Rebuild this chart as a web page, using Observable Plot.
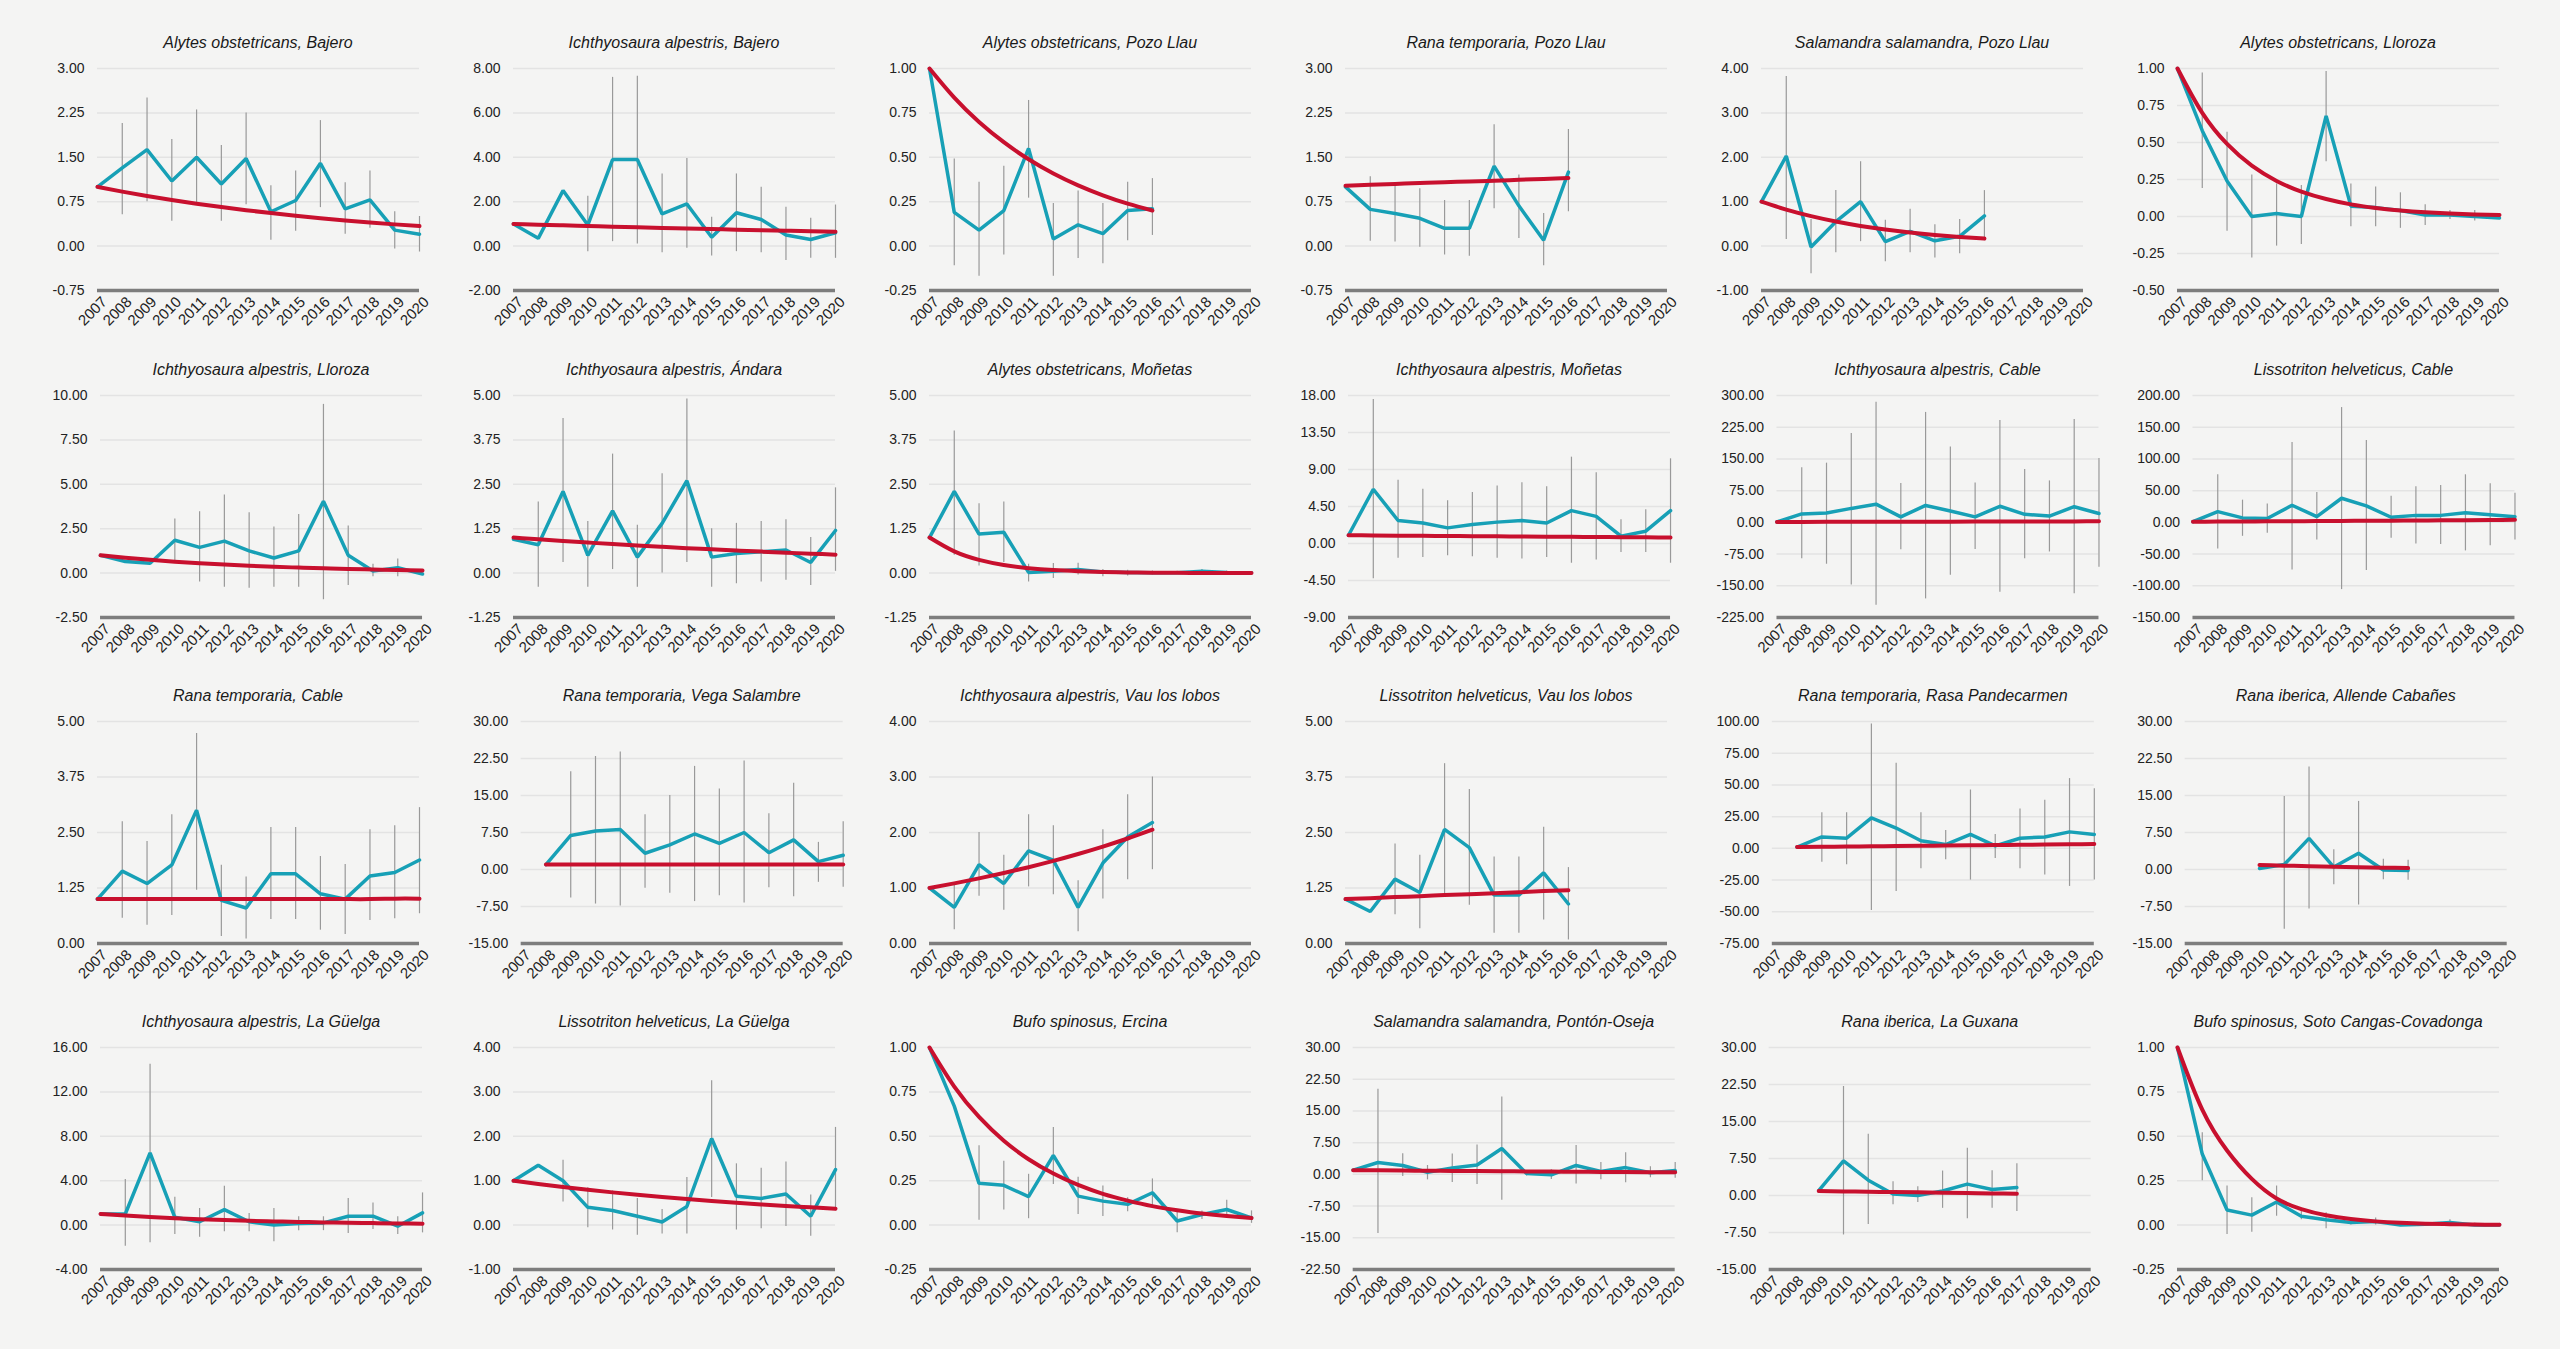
<!DOCTYPE html>
<html><head><meta charset="utf-8">
<script src="https://cdn.jsdelivr.net/npm/d3@7"></script>
<script src="https://cdn.jsdelivr.net/npm/@observablehq/plot@0.6"></script>
<style>
html,body{margin:0;padding:0;background:#f4f4f3;}
#root{position:relative;width:2560px;height:1349px;overflow:hidden;font-family:"Liberation Sans",Arial,sans-serif;}
.ttl{position:absolute;text-align:center;font-style:italic;font-size:16px;color:#1a1a1a;white-space:nowrap;line-height:20px;height:20px;}
.pan{position:absolute;}
</style></head><body><div id="root"></div><script>
const years = [2007,2008,2009,2010,2011,2012,2013,2014,2015,2016,2017,2018,2019,2020];
const titles = [
  "Alytes obstetricans, Bajero","Ichthyosaura alpestris, Bajero","Alytes obstetricans, Pozo Llau","Rana temporaria, Pozo Llau","Salamandra salamandra, Pozo Llau","Alytes obstetricans, Lloroza",
  "Ichthyosaura alpestris, Lloroza","Ichthyosaura alpestris, Ándara","Alytes obstetricans, Moñetas","Ichthyosaura alpestris, Moñetas","Ichthyosaura alpestris, Cable","Lissotriton helveticus, Cable",
  "Rana temporaria, Cable","Rana temporaria, Vega Salambre","Ichthyosaura alpestris, Vau los lobos","Lissotriton helveticus, Vau los lobos","Rana temporaria, Rasa Pandecarmen","Rana iberica, Allende Cabañes",
  "Ichthyosaura alpestris, La Güelga","Lissotriton helveticus, La Güelga","Bufo spinosus, Ercina","Salamandra salamandra, Pontón-Oseja","Rana iberica, La Guxana","Bufo spinosus, Soto Cangas-Covadonga"
];
const yMin  = [-0.75,-2,-0.25,-0.75,-1,-0.5, -2.5,-1.25,-1.25,-9,-225,-150, 0,-15,0,0,-75,-15, -4,-1,-0.25,-22.5,-15,-0.25];
const yMax  = [3,8,1,3,4,1, 10,5,5,18,300,200, 5,30,4,5,100,30, 16,4,1,30,30,1];
const yStep = [0.75,2,0.25,0.75,1,0.25, 2.5,1.25,1.25,4.5,75,50, 1.25,7.5,1,1.25,25,7.5, 4,1,0.25,7.5,7.5,0.25];
const startYear = [2007,2007,2007,2007,2007,2007, 2007,2007,2007,2007,2007,2007, 2007,2008,2007,2007,2008,2010, 2007,2007,2007,2007,2009,2007];
const means = [
  [1.0,1.32,1.63,1.1,1.5,1.05,1.48,0.58,0.77,1.4,0.63,0.78,0.27,0.2],
  [1.0,0.35,2.5,0.95,3.9,3.9,1.45,1.9,0.4,1.5,1.2,0.5,0.3,0.6],
  [1.0,0.19,0.09,0.2,0.55,0.04,0.12,0.07,0.2,0.21],
  [1.0,0.62,0.55,0.47,0.3,0.3,1.35,0.68,0.1,1.25],
  [1.0,2.03,-0.02,0.55,1.0,0.1,0.33,0.12,0.22,0.68],
  [1.0,0.58,0.24,0.0,0.02,0.0,0.68,0.07,0.06,0.04,0.01,0.01,0.0,-0.01],
  [1.0,0.65,0.55,1.85,1.45,1.8,1.25,0.85,1.25,4.05,1.0,0.12,0.3,-0.05],
  [0.95,0.8,2.3,0.5,1.75,0.45,1.4,2.6,0.45,0.55,0.6,0.65,0.3,1.2],
  [1.0,2.3,1.1,1.15,0.02,0.05,0.1,0.03,0.02,0.01,0.01,0.05,0.02,0.01],
  [1.0,6.6,2.8,2.5,1.9,2.3,2.6,2.8,2.5,4.0,3.3,0.9,1.5,4.0],
  [1,20,22,33,43,13,40,27,13,38,19,15,37,21],
  [1,17,7,6,27,9,38,26,8,11,11,15,12,9],
  [1.0,1.63,1.35,1.77,3.0,0.97,0.8,1.57,1.57,1.12,1.0,1.52,1.6,1.88],
  [1.0,6.9,7.8,8.1,3.3,5.0,7.2,5.3,7.5,3.4,6.0,1.6,2.9],
  [1.0,0.65,1.42,1.08,1.67,1.5,0.65,1.45,1.92,2.18],
  [1.0,0.72,1.45,1.15,2.57,2.16,1.09,1.09,1.59,0.89],
  [1,9,8,24,16,6,3,11,2,8,9,13,11],
  [0.2,1.0,6.3,0.5,3.3,-0.1,-0.2],
  [1.0,1.0,6.5,0.7,0.3,1.4,0.3,0.0,0.15,0.2,0.8,0.8,-0.1,1.1],
  [1.0,1.35,1.0,0.4,0.33,0.2,0.07,0.42,1.95,0.65,0.6,0.7,0.2,1.25],
  [1.0,0.67,0.235,0.224,0.16,0.393,0.163,0.135,0.117,0.182,0.023,0.06,0.088,0.041],
  [1.0,2.8,2.1,0.5,1.5,2.2,6.1,0.2,-0.1,2.1,0.7,1.6,0.4,0.9],
  [1.0,7.0,3.1,0.3,0.0,0.9,2.3,1.2,1.6],
  [1.0,0.4,0.085,0.056,0.13,0.05,0.03,0.015,0.02,0.0,0.005,0.015,0.0,0.0]
];
const lows = [
  [null,0.53,0.75,0.42,0.7,0.42,0.7,0.1,0.25,0.65,0.2,0.3,-0.05,-0.1],
  [null,null,null,-0.25,0.2,0.1,-0.3,-0.1,-0.45,-0.25,-0.3,-0.65,-0.55,-0.55],
  [null,-0.11,-0.17,-0.05,0.27,-0.17,-0.07,-0.1,0.03,0.06],
  [null,0.08,0.07,-0.02,-0.15,-0.17,0.63,0.13,-0.33,0.58],
  [null,0.15,-0.62,-0.15,0.1,-0.35,-0.15,-0.27,-0.17,0.12],
  [null,0.19,-0.1,-0.28,-0.2,-0.19,0.37,-0.07,-0.07,-0.08,-0.06,-0.02,-0.03,null],
  [null,null,null,0.7,-0.5,-0.8,-0.85,-0.8,-0.8,-1.5,-0.7,-0.2,-0.2,null],
  [null,-0.4,0.3,-0.4,0.1,-0.4,0.0,0.3,-0.4,-0.3,-0.25,-0.2,-0.35,0.05],
  [null,0.5,0.2,0.3,-0.25,-0.15,-0.05,-0.1,-0.08,-0.05,-0.04,-0.03,-0.03,-0.02],
  [null,-4.3,-1.8,-1.7,-1.5,-1.6,-1.8,-1.9,-1.7,-2.4,-2.0,-1.1,-1.1,-2.4],
  [null,-86,-99,-148,-196,-65,-181,-125,-64,-165,-86,-70,-169,-106],
  [null,-42,-22,-17,-75,-28,-106,-76,-25,-34,-35,-45,-37,-28],
  [null,0.57,0.41,0.63,1.2,0.16,0.1,0.54,0.54,0.3,0.2,0.52,0.56,0.67],
  [null,-5.8,-7.0,-7.4,-3.8,-4.8,-6.5,-5.3,-6.8,-3.7,-5.5,-2.6,-3.6],
  [null,0.25,0.85,0.6,1.02,0.88,0.21,0.8,1.15,1.33],
  [null,null,0.65,0.33,1.1,0.86,0.23,0.23,0.53,0.08],
  [null,-11,-13,-49,-34,-16,-9,-25,-8,-16,-21,-30,-25],
  [null,-12.1,-8.0,-3.1,-7.2,-2.1,-2.2],
  [null,-1.9,-1.6,-0.85,-1.1,-0.6,-0.6,-1.5,-0.5,-0.5,-0.75,-0.4,-0.85,-0.7],
  [null,null,0.52,-0.06,-0.11,-0.23,-0.2,-0.2,0.62,-0.11,-0.08,-0.03,-0.25,0.32],
  [null,null,0.028,0.085,0.036,0.229,0.06,0.049,0.075,0.098,-0.043,0.032,0.05,0.01],
  [null,-14,-0.5,-1.3,-1.9,-2.4,-6.1,-0.4,-1.2,-2.3,-1.3,-2.0,-0.8,-0.9],
  [null,-8.0,-5.9,-1.9,-1.4,-2.6,-4.7,-2.6,-3.25],
  [null,0.25,-0.053,-0.04,0.05,0.03,-0.02,0.0,0.0,-0.005,-0.005,0.0,-0.005,-0.005]
];
const highs = [
  [null,2.07,2.5,1.8,2.3,1.7,2.25,1.02,1.27,2.12,1.07,1.27,0.58,0.5],
  [null,null,null,2.25,7.6,7.65,3.25,3.95,1.3,3.25,2.65,1.75,1.25,1.85],
  [null,0.49,0.36,0.45,0.82,0.24,0.31,0.24,0.36,0.38],
  [null,1.17,1.03,0.97,0.77,0.77,2.05,1.2,0.55,1.97],
  [null,3.82,0.6,1.25,1.9,0.58,0.83,0.48,0.6,1.25],
  [null,0.97,0.57,0.28,0.22,0.21,0.98,0.22,0.2,0.16,0.08,0.04,0.04,null],
  [null,null,null,3.05,3.45,4.4,3.4,2.6,3.3,9.5,2.65,0.5,0.8,null],
  [null,2.0,4.35,1.45,3.35,1.35,2.8,4.9,1.25,1.4,1.45,1.5,1.0,2.4],
  [null,4.0,1.95,2.0,0.25,0.27,0.28,0.1,0.08,0.06,0.05,0.1,0.06,0.04],
  [null,17.5,7.7,6.6,5.2,6.2,7.0,7.4,6.9,10.5,8.6,2.9,4.1,10.3],
  [null,129,140,210,284,92,260,178,93,241,125,98,243,151],
  [null,75,35,29,126,47,181,129,41,56,58,75,61,46],
  [null,2.74,2.3,2.9,4.73,1.76,1.5,2.61,2.61,1.96,1.78,2.56,2.65,3.06],
  [null,19.8,22.9,23.8,11.1,15.0,20.9,16.3,22.0,11.3,17.5,5.5,9.7],
  [null,1.05,2.0,1.59,2.32,2.12,1.13,2.05,2.68,3.0],
  [null,null,2.24,1.99,4.05,3.47,1.95,1.95,2.62,1.71],
  [null,28,28,98,67,28,14,46,11,31,38,55,47],
  [null,14.8,20.8,4.0,13.8,2.1,1.9],
  [null,4.1,14.5,2.5,1.5,3.5,1.05,1.5,0.75,0.75,2.4,2.0,0.75,2.9],
  [null,null,1.46,0.84,0.77,0.6,0.35,1.07,3.25,1.38,1.28,1.42,0.68,2.2],
  [null,null,0.447,0.36,0.286,0.549,0.27,0.22,0.154,0.26,0.085,0.08,0.14,0.08],
  [null,20.1,4.9,2.1,4.8,6.95,18.3,0.6,1.1,6.8,2.8,5.1,1.8,2.8],
  [null,22.1,12.4,2.8,1.76,4.96,9.56,5.0,6.45],
  [null,0.52,0.22,0.154,0.22,0.08,0.07,0.03,0.04,0.01,0.015,0.03,0.01,0.01]
];
const trends = [
  [1.0,0.92,0.846,0.779,0.716,0.659,0.606,0.558,0.513,0.472,0.434,0.399,0.367,0.338],
  [1.0,0.967,0.936,0.905,0.876,0.847,0.819,0.793,0.767,0.742,0.718,0.694,0.672,0.65],
  [1,0.836,0.699,0.585,0.489,0.409,0.342,0.286,0.239,0.2],
  [1.02,1.035,1.05,1.065,1.08,1.09,1.105,1.12,1.135,1.15],
  [1,0.821,0.674,0.553,0.454,0.373,0.306,0.251,0.206,0.17],
  [1,0.7,0.49,0.343,0.24,0.168,0.118,0.082,0.058,0.04,0.028,0.02,0.014,0.01],
  [1,0.864,0.746,0.645,0.557,0.481,0.416,0.359,0.31,0.268,0.232,0.2,0.173,0.15],
  [1,0.951,0.904,0.86,0.818,0.778,0.74,0.703,0.669,0.636,0.605,0.575,0.547,0.52],
  [1,0.61,0.372,0.227,0.138,0.084,0.052,0.031,0.019,0.012,0.007,0.004,0.003,0.002],
  [1.0,0.98,0.955,0.935,0.91,0.89,0.87,0.85,0.83,0.81,0.79,0.77,0.75,0.73],
  [1,1.1,1.2,1.3,1.4,1.5,1.6,1.7,1.8,1.9,2.0,2.1,2.3,2.5],
  [1,1.2,1.4,1.6,1.8,2.0,2.2,2.5,2.7,3.0,3.2,3.5,3.8,4.0],
  [1.0,1.0,1.0,1.0,1.0,1.0,1.0,1.0,1.0,1.0,1.0,1.0,1.01,1.01],
  [1.0,1.0,1.0,1.0,1.0,1.0,1.0,1.0,1.0,1.0,1.0,1.0,1.0],
  [1,1.083,1.173,1.27,1.375,1.489,1.613,1.747,1.892,2.05],
  [1.0,1.02,1.045,1.065,1.09,1.11,1.13,1.155,1.18,1.2],
  [1.0,1.2,1.4,1.6,1.8,2.0,2.2,2.4,2.6,2.8,3.0,3.2,3.4],
  [0.9,0.78,0.67,0.57,0.47,0.37,0.28],
  [1,0.855,0.731,0.625,0.534,0.457,0.391,0.334,0.286,0.244,0.209,0.178,0.153,0.13],
  [1,0.926,0.858,0.795,0.737,0.682,0.632,0.586,0.543,0.503,0.466,0.431,0.4,0.37],
  [1,0.78,0.609,0.475,0.371,0.29,0.226,0.176,0.138,0.107,0.084,0.065,0.051,0.04],
  [1.0,0.95,0.9,0.86,0.81,0.77,0.73,0.69,0.65,0.62,0.58,0.55,0.52,0.5],
  [0.9,0.83,0.76,0.7,0.64,0.58,0.5,0.42,0.35],
  [1,0.65,0.42,0.26,0.15,0.09,0.055,0.034,0.021,0.013,0.008,0.005,0.003,0.002]
];

const root = document.getElementById("root");
const FONT = '"Liberation Sans", Arial, sans-serif';
const CELL_W = 416, CELL_X0 = 40, PLOT_W = 322, PLOT_H = 222, MT = 10, MB = 55;
const rowTops = [68, 394.5, 721, 1047];
const FS = 14;
function labelWidth(s){ let w = 0; for (const c of s) w += c === "." ? 0.278 : c === "-" ? 0.333 : 0.556; return w * FS; }
const fmt = v => (Math.abs(v) < 1e-9 ? 0 : v).toFixed(2);

titles.forEach((title, i) => {
  const col = i % 6, row = Math.floor(i / 6);
  const nT = Math.round((yMax[i] - yMin[i]) / yStep[i]);
  const ticks = d3.range(nT + 1).map(k => +(yMin[i] + k * yStep[i]).toFixed(4));
  const maxW = d3.max(ticks, t => labelWidth(fmt(t)));
  const ml = 57 + Math.max(0, maxW - 32);
  const mr = CELL_W - PLOT_W - ml;
  const rows = means[i].map((m, k) => ({year: startYear[i] + k, mean: m, lo: lows[i][k], hi: highs[i][k], trend: trends[i][k]}));
  const bars = rows.filter(d => d.lo != null && d.hi != null);
  const svg = Plot.plot({
    width: CELL_W, height: MT + PLOT_H + MB,
    marginTop: MT, marginBottom: MB, marginLeft: ml, marginRight: mr,
    style: {background: "transparent", fontFamily: FONT, fontSize: FS + "px", color: "#222", overflow: "visible"},
    x: {domain: [2007, 2020]},
    y: {domain: [yMin[i], yMax[i]]},
    marks: [
      Plot.ruleY(ticks.slice(1), {stroke: "#e3e3e3", strokeWidth: 1.5}),
      Plot.ruleY([yMin[i]], {stroke: "#7d7d7d", strokeWidth: 3.5}),
      Plot.ruleX(bars, {x: "year", y1: "lo", y2: "hi", stroke: "#999", strokeWidth: 1.2}),
      Plot.line(rows, {x: "year", y: "mean", stroke: "#17a0b6", strokeWidth: 3.5, strokeLinejoin: "miter"}),
      Plot.line(rows, {x: "year", y: "trend", stroke: "#c8102e", strokeWidth: 4, curve: "natural"}),
      Plot.axisY(ticks, {tickFormat: fmt, tickSize: 0, tickPadding: 13, label: null, fill: "#222"}),
      Plot.axisX(years, {tickFormat: d => String(d), tickSize: 0, tickRotate: -45, tickPadding: 6, dx: 7, dy: 3, fontSize: 15, label: null, fill: "#222"})
    ]
  });
  svg.classList.add("pan");
  svg.style.left = (CELL_X0 + col * CELL_W) + "px";
  svg.style.top = (rowTops[row] - MT) + "px";
  root.appendChild(svg);
  const t = document.createElement("div");
  t.className = "ttl";
  t.textContent = title;
  t.style.left = (CELL_X0 + col * CELL_W + ml) + "px";
  t.style.width = PLOT_W + "px";
  t.style.top = (rowTops[row] - 35) + "px";
  root.appendChild(t);
});
</script></body></html>
